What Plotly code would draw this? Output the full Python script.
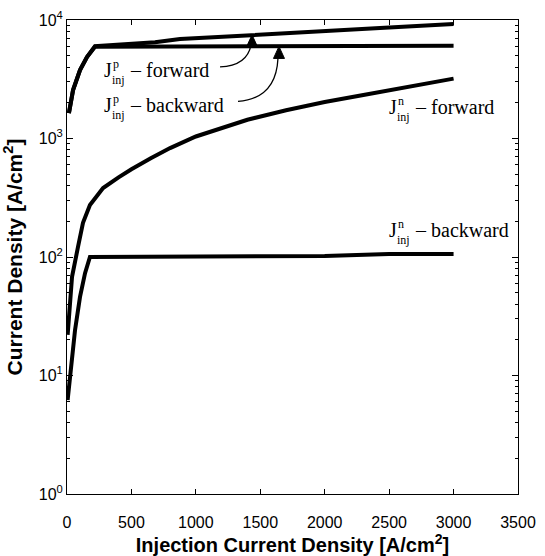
import numpy as np
import plotly.graph_objects as go

# ---- data -------------------------------------------------------------
# hole injection current, forward bias
jp_fwd_x = [15, 47, 101, 155, 217, 683, 877, 1397, 1909, 2429, 3000]
jp_fwd_y = [1640, 2560, 3780, 4870, 6000, 6500, 6900, 7450, 8000, 8550, 9250]

# hole injection current, backward bias
jp_bwd_x = [15, 47, 101, 155, 217, 1000, 2000, 3000]
jp_bwd_y = [1640, 2560, 3780, 4870, 5950, 5950, 6000, 6050]

# electron injection current, forward bias
jn_fwd_x = [5, 39, 85, 124, 178, 280, 400, 500, 650, 800, 1000, 1200,
            1400, 1700, 2000, 2300, 2600, 3000]
jn_fwd_y = [22, 68, 121, 194, 275, 382, 470, 550, 680, 830, 1040, 1230,
            1440, 1730, 2030, 2330, 2680, 3200]

# electron injection current, backward bias
jn_bwd_x = [5, 39, 62, 101, 140, 178, 1000, 2000, 2500, 3000]
jn_bwd_y = [6.2, 12.7, 24, 46, 73, 100, 101, 102, 106, 106]

x_ticks = [0, 500, 1000, 1500, 2000, 2500, 3000, 3500]
y_ticks = [1, 10, 100, 1000, 10000]
y_tick_text = ["10<sup>0</sup>", "10<sup>1</sup>", "10<sup>2</sup>",
               "10<sup>3</sup>", "10<sup>4</sup>"]

# ---- geometry -----------------------------------------------------------
W, H = 545, 556
L, R, T, B = 67, 518, 20, 494
PW, PH = R - L, B - T
X_MAX, Y_DEC = 3500, 4

def to_paper(x, y):
    return x / X_MAX, np.log10(y) / Y_DEC

def shift(p, dx, dy):
    """offset a paper point by pixels (dy positive = downwards)"""
    return p[0] + dx / PW, p[1] - dy / PH

fig = go.Figure()

line = dict(color="black", width=4)
for xs, ys in [(jp_fwd_x, jp_fwd_y), (jp_bwd_x, jp_bwd_y),
               (jn_fwd_x, jn_fwd_y), (jn_bwd_x, jn_bwd_y)]:
    fig.add_trace(go.Scatter(x=xs, y=ys, mode="lines", line=line,
                             showlegend=False, hoverinfo="skip"))

# ---- curved arrows pointing at the two J^p curves ------------------------
def curve_point(xs, ys, x):
    return to_paper(x, 10 ** np.interp(x, xs, np.log10(ys)))

def arrow(tip, tail, ctrl, base):
    p0 = shift(tip, *tail)
    c = shift(tip, *ctrl)
    p1 = shift(tip, *base)
    shapes = [dict(type="path", xref="paper", yref="paper",
                   path=f"M {p0[0]},{p0[1]} Q {c[0]},{c[1]} {p1[0]},{p1[1]}",
                   line=dict(color="black", width=1.3))]
    a = shift(tip, -5.5, 12)
    b = shift(tip, 5.5, 12)
    shapes.append(dict(type="path", xref="paper", yref="paper",
                       path=f"M {tip[0]},{tip[1]} L {a[0]},{a[1]} L {b[0]},{b[1]} Z",
                       fillcolor="black", line=dict(color="black", width=1)))
    return shapes

shapes = []
shapes += arrow(curve_point(jp_fwd_x, jp_fwd_y, 1436), (-32, 32), (-5, 31), (-1, 10))
shapes += arrow(curve_point(jp_bwd_x, jp_bwd_y, 1645), (-41, 55), (-3, 52), (-1, 12))

# ---- curve labels: J with stacked super/subscript -------------------------
serif = "Liberation Serif"
annotations = []

def label(x, y, sup, rest):
    ly = np.log10(y)
    base = dict(x=x, y=ly, xref="x", yref="y", xanchor="left", yanchor="middle",
                showarrow=False)
    annotations.append(dict(base, text="J", font=dict(family=serif, size=20, color="black")))
    annotations.append(dict(base, text=sup, xshift=9, yshift=6,
                            font=dict(family=serif, size=12, color="black")))
    annotations.append(dict(base, text="inj", xshift=8, yshift=-10,
                            font=dict(family=serif, size=12, color="black")))
    annotations.append(dict(base, text=rest, xshift=26,
                            font=dict(family=serif, size=20, color="black")))

label(270, 3800, "p", "– forward")
label(270, 1920, "p", "– backward")
label(2480, 1830, "n", "– forward")
label(2480, 169, "n", "– backward")

minor_y = [k * 10 ** n for n in range(4) for k in range(2, 10)]

axis_font = dict(family="Liberation Sans", size=16, color="black")

fig.update_layout(
    width=W, height=H,
    margin=dict(l=L, r=W - R, t=T, b=H - B),
    paper_bgcolor="white", plot_bgcolor="white",
    shapes=shapes, annotations=annotations,
    xaxis=dict(range=[0, 3500], tickvals=x_ticks, ticks="inside", ticklen=5,
               tickcolor="black", showline=True, linecolor="black", linewidth=1,
               mirror="ticks", showgrid=False, zeroline=False, automargin=False,
               tickfont=axis_font, ticklabelstandoff=14,
               title=dict(text="<b>Injection Current Density [A/cm<sup>2</sup>]</b>",
                          font=dict(family="Liberation Sans", size=20, color="black"),
                          standoff=12)),
    yaxis=dict(type="log", range=[0, 4], tickvals=y_ticks, ticktext=y_tick_text,
               ticks="inside", ticklen=6, tickcolor="black",
               minor=dict(tickvals=minor_y, ticks="inside", ticklen=3,
                          tickcolor="black", showgrid=False),
               showline=True, linecolor="black", linewidth=1, mirror="ticks",
               showgrid=False, zeroline=False, automargin=False, tickfont=axis_font,
               title=dict(text="<b>Current Density [A/cm<sup>2</sup>]</b>",
                          font=dict(family="Liberation Sans", size=21, color="black"),
                          standoff=10)),
)

fig.write_html("out.html")
